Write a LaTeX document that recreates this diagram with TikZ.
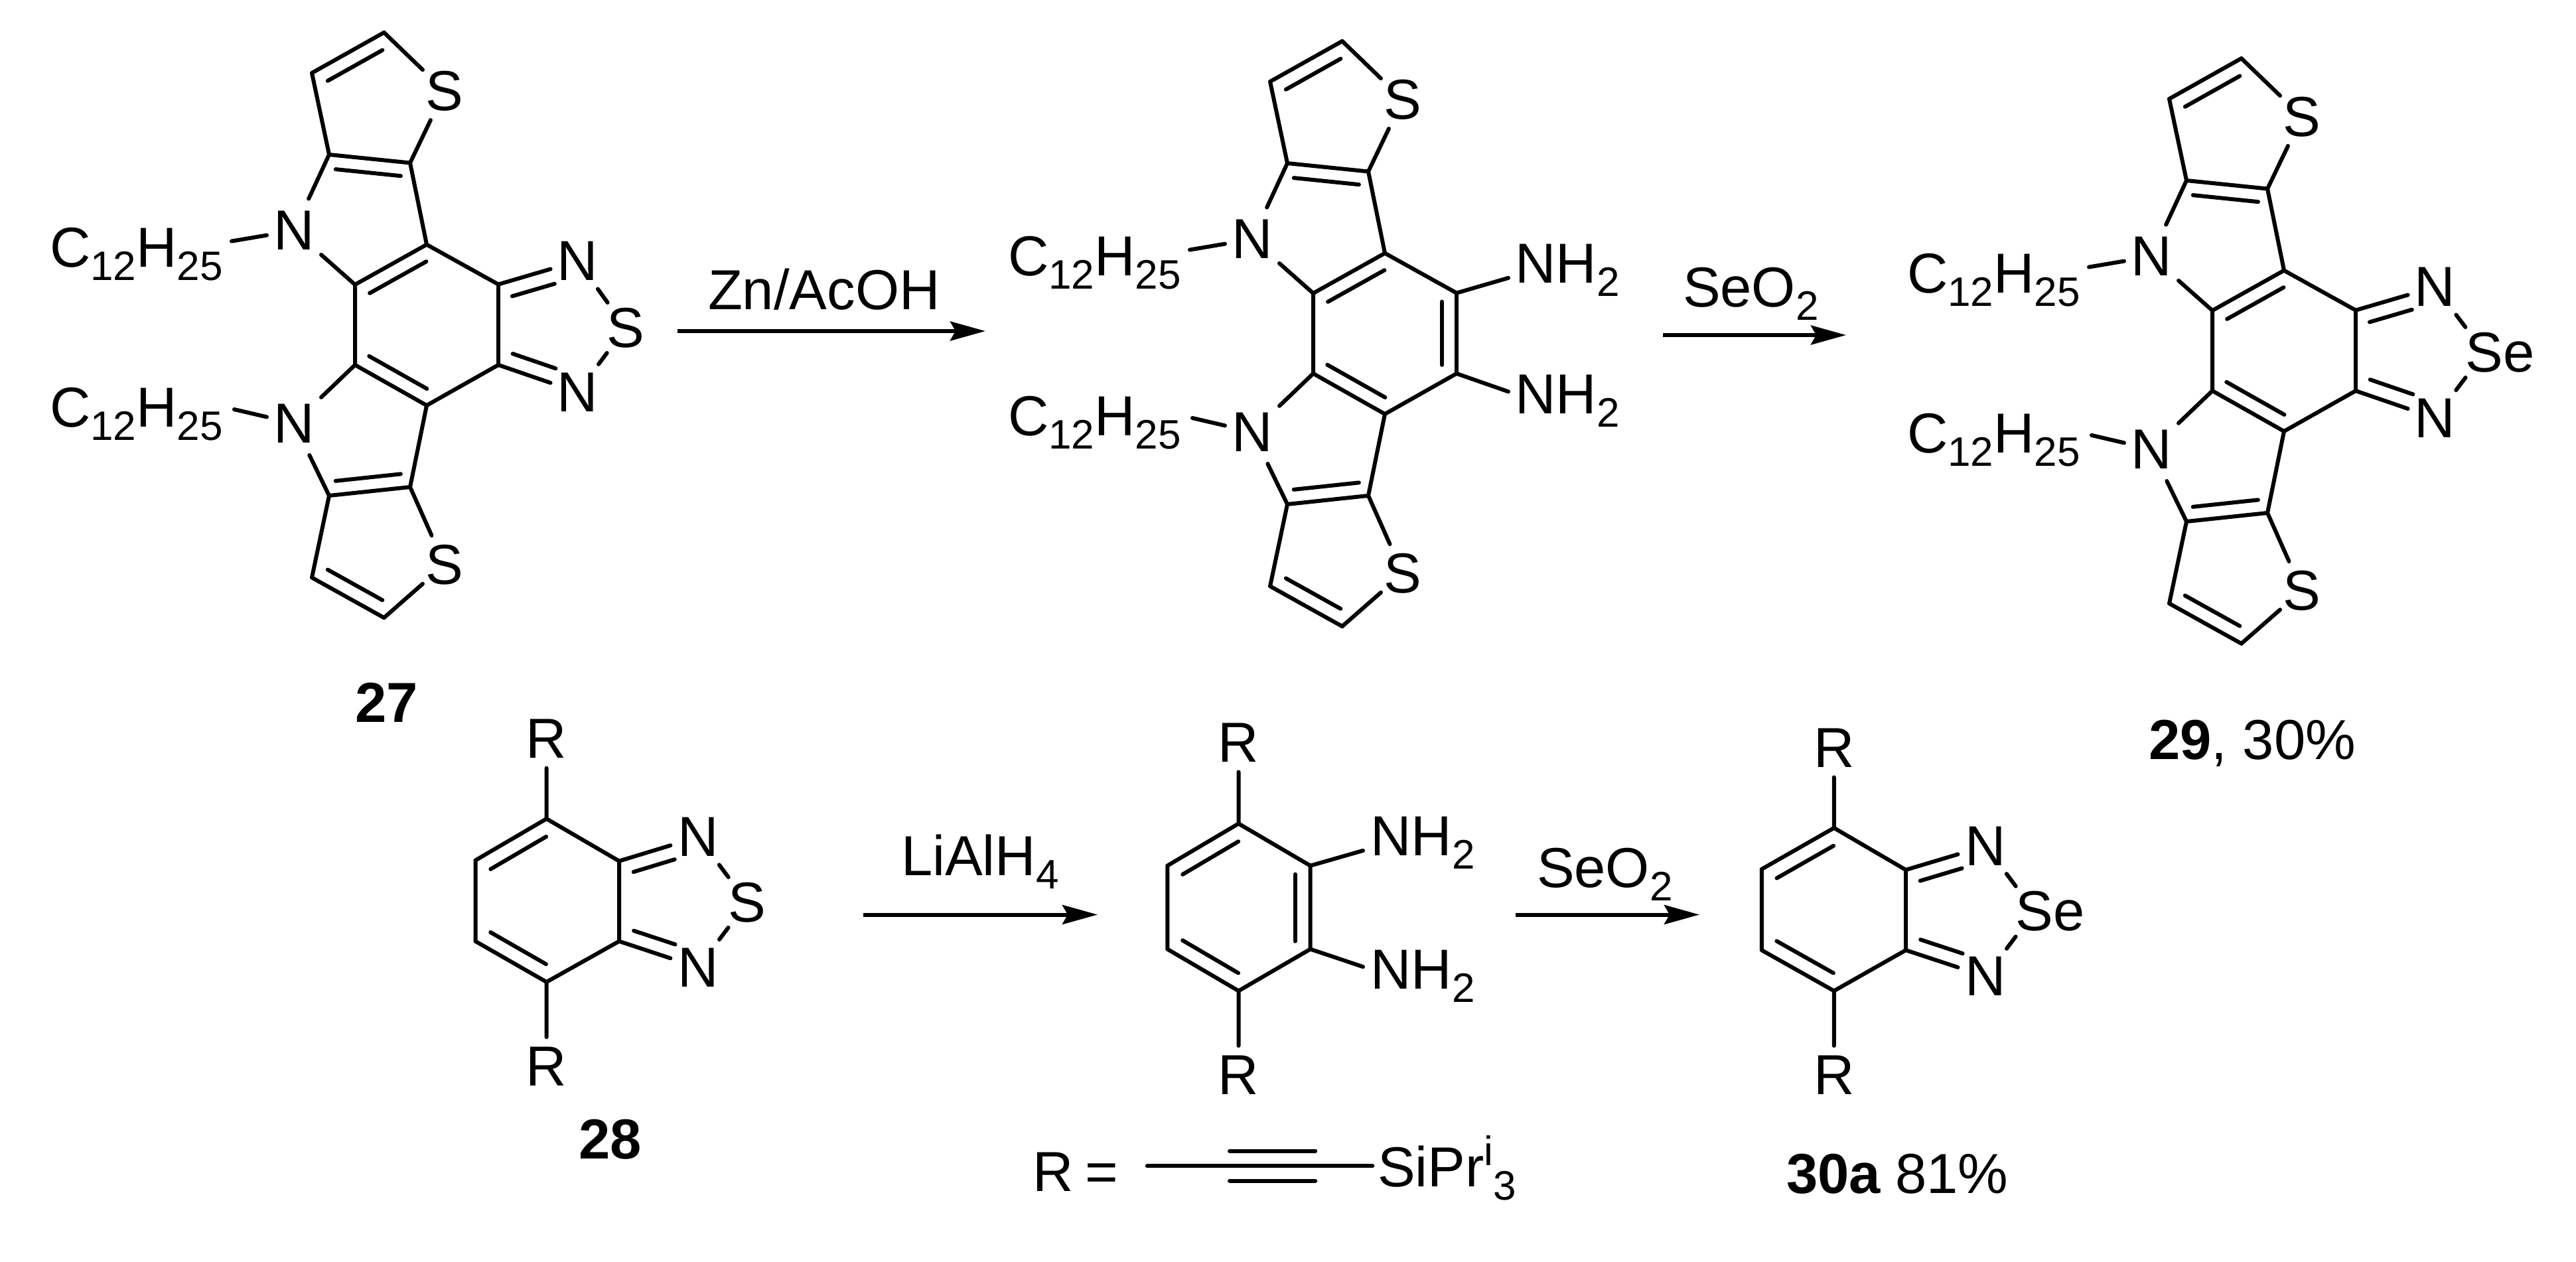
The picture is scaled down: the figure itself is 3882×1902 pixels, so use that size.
\documentclass[tikz,border=0pt]{standalone}
\usepackage{fontspec}
\setmainfont{Liberation Sans}
\usetikzlibrary{calc,arrows.meta}
\newcommand\molsub[1]{\raisebox{-20pt}{\fontsize{62}{62}\selectfont #1}}
\newcommand\molsup[1]{\raisebox{32pt}{\fontsize{62}{62}\selectfont #1}}
\newcommand\inbond[5]{\draw ($(#1)!#4pt!(#2)!#3pt!90:(#2)$) -- ($(#2)!#5pt!(#1)!#3pt!-90:(#1)$);}
\tikzset{
  atom/.style 2 args={inner sep=0pt,outer sep=0pt,minimum width=#1pt,minimum height=#2pt,rectangle,font=\fontsize{85}{85}\selectfont},
  lbl/.style={inner sep=0pt,outer sep=0pt,anchor=base west,font=\fontsize{85}{85}\selectfont},
  rxn/.style={-{Stealth[length=53pt,width=29pt,inset=8pt]},line width=6pt,line cap=butt},
  bond/.style={line width=6pt,line cap=round,line join=round}
}
% tricyclic core shared by 27, the diamine and 29
\newcommand\molcore{%
  \coordinate (A) at (578.7,49);
  \coordinate (B) at (470,110);
  \coordinate (C) at (496,233);
  \coordinate (D) at (618,245.5);
  \coordinate (E) at (643,368.6);
  \coordinate (F) at (535,429);
  \coordinate (G) at (751,428.6);
  \coordinate (H) at (535,550);
  \coordinate (I) at (751,550);
  \coordinate (J) at (643,611);
  \coordinate (K) at (618,734);
  \coordinate (L) at (496,747);
  \coordinate (M) at (470,870.5);
  \coordinate (O) at (578.7,931);
  \coordinate (R1) at (349,363.5);
  \coordinate (R2) at (353,617);
  \node[atom={66}{88}] (S1) at (670,137) {S};
  \node[atom={66}{88}] (S2) at (670,851) {S};
  \node[atom={82}{96}] (N1) at (443,347.6) {N};
  \node[atom={82}{96}] (N2) at (443,638) {N};
  \node[lbl] (C1) at (75,402) {C\molsub{12}H\molsub{25}};
  \node[lbl] (C2) at (75,643) {C\molsub{12}H\molsub{25}};
  \draw (A)--(B) (B)--(C) (C)--(D) (D)--(E) (E)--(F) (F)--(H) (H)--(J) (J)--(K) (K)--(L) (L)--(M) (M)--(O)
        (E)--(G) (J)--(I);
  \draw (A)--(S1) (D)--(S1) (O)--(S2) (K)--(S2) (C)--(N1) (F)--(N1) (H)--(N2) (L)--(N2) (R1)--(N1) (R2)--(N2);
  \inbond{A}{B}{22}{15}{15}
  \inbond{C}{D}{-21}{12}{12}
  \inbond{E}{F}{22}{13}{13}
  \inbond{H}{J}{22}{12}{12}
  \inbond{L}{K}{21}{12}{12}
  \inbond{M}{O}{22}{15}{15}
}
\begin{document}
\begin{tikzpicture}[x=1pt,y=-1pt,bond]
\useasboundingbox (0,0) rectangle (3882,1902);
\fill[white] (0,0) rectangle (3882,1902);

% ---- 27
\begin{scope}[name prefix=a-]
  \molcore
  \draw (G)--(I);
  \node[atom={82}{84}] (N3) at (870.6,393.5) {N};
  \node[atom={82}{84}] (N4) at (870.6,591) {N};
  \node[atom={66}{76}] (S3) at (943,494) {S};
  \draw (G)--(N3) (I)--(N4) (N3)--(S3) (N4)--(S3);
  \inbond{G}{N3}{-23}{15}{43}
  \inbond{I}{N4}{23}{15}{43}
\end{scope}
\node[lbl,font=\fontsize{85}{85}\selectfont\bfseries] (n27) at (535,1088) {27};

% ---- diamine
\begin{scope}[shift={(1444,13)},name prefix=b-]
  \molcore
  \draw (G)--(I);
  \inbond{G}{I}{-22}{13}{13}
  \node[atom={82}{84}] (N3) at (870,394) {N\rlap{H\molsub{2}}};
  \node[atom={82}{84}] (N4) at (870,591.5) {N\rlap{H\molsub{2}}};
  \draw (G)--(N3) (I)--(N4);
\end{scope}

% ---- 29
\begin{scope}[shift={(2799,39)},name prefix=c-]
  \molcore
  \draw (G)--(I);
  \node[atom={82}{84}] (N3) at (870.6,393.5) {N};
  \node[atom={82}{84}] (N4) at (870.6,591) {N};
  \node[atom={66}{76}] (S3) at (945,492) {S\rlap{e}};
  \draw (G)--(N3) (I)--(N4) (N3)--(S3) (N4)--(S3);
  \inbond{G}{N3}{-23}{15}{43}
  \inbond{I}{N4}{23}{15}{43}
\end{scope}
\node[lbl] (n29) at (3238,1144) {\textbf{29}, 30\%};

% ---- arrows, top row
\coordinate (ar1s) at (1021,499);
\coordinate (ar1e) at (1485,499);
\draw[rxn] (ar1s) -- (ar1e);
\node[lbl] (zn) at (1067,466) {Zn/AcOH};
\coordinate (ar2s) at (2506,505);
\coordinate (ar2e) at (2782,505);
\draw[rxn] (ar2s) -- (ar2e);
\node[lbl] (se1) at (2536,462) {SeO\molsub{2}};

% ---- 28
\begin{scope}[name prefix=d-]
  \coordinate (a) at (823.6,1234);
  \coordinate (b) at (716.5,1296.6);
  \coordinate (c) at (716.5,1418.6);
  \coordinate (d) at (823.6,1480);
  \coordinate (e) at (933,1418.6);
  \coordinate (f) at (933,1297.7);
  \node[atom={60}{88}] (R1) at (823.6,1113.7) {R};
  \node[atom={60}{88}] (R2) at (823.6,1607) {R};
  \node[atom={84}{84}] (N1) at (1052.4,1261.4) {N};
  \node[atom={84}{84}] (N2) at (1052.4,1458) {N};
  \node[atom={66}{76}] (S) at (1126,1360) {S};
  \draw (a)--(b) (b)--(c) (c)--(d) (d)--(e) (e)--(f) (f)--(a) (a)--(R1) (d)--(R2);
  \draw (f)--(N1) (e)--(N2) (N1)--(S) (N2)--(S);
  \inbond{a}{b}{23}{14}{13}
  \inbond{c}{d}{23}{13}{14}
  \inbond{f}{N1}{-22}{16}{44}
  \inbond{e}{N2}{22}{16}{44}
\end{scope}
\node[lbl,font=\fontsize{85}{85}\selectfont\bfseries] (n28) at (872,1746) {28};

\coordinate (ar3s) at (1301,1378.5);
\coordinate (ar3e) at (1654,1378.5);
\draw[rxn] (ar3s) -- (ar3e);
\node[lbl] (lah) at (1358,1319) {LiAlH\molsub{4}};

% ---- diamine, bottom
\begin{scope}[name prefix=e-]
  \coordinate (a) at (1866.5,1241.3);
  \coordinate (b) at (1759.3,1304.7);
  \coordinate (c) at (1759.3,1430.5);
  \coordinate (d) at (1866.5,1493.4);
  \coordinate (e) at (1974.6,1430.5);
  \coordinate (f) at (1974.6,1304.7);
  \node[atom={60}{88}] (R1) at (1866.5,1119.5) {R};
  \node[atom={60}{88}] (R2) at (1866.5,1620) {R};
  \node[atom={84}{84}] (N1) at (2096,1270) {N\rlap{H\molsub{2}}};
  \node[atom={84}{84}] (N2) at (2096,1471) {N\rlap{H\molsub{2}}};
  \draw (a)--(b) (b)--(c) (c)--(d) (d)--(e) (e)--(f) (f)--(a) (a)--(R1) (d)--(R2);
  \draw (f)--(N1) (e)--(N2);
  \inbond{a}{b}{23}{14}{13}
  \inbond{c}{d}{23}{13}{14}
  \inbond{f}{e}{-23}{13}{12}
\end{scope}

\coordinate (ar4s) at (2283.6,1378.5);
\coordinate (ar4e) at (2561,1378.5);
\draw[rxn] (ar4s) -- (ar4e);
\node[lbl] (se2) at (2316,1337) {SeO\molsub{2}};

% ---- 30a
\begin{scope}[name prefix=f-]
  \coordinate (a) at (2763.8,1247.8);
  \coordinate (b) at (2654.8,1310);
  \coordinate (c) at (2654.8,1432);
  \coordinate (d) at (2763.8,1493.4);
  \coordinate (e) at (2872,1432);
  \coordinate (f) at (2872,1311);
  \node[atom={60}{88}] (R1) at (2763.8,1127.5) {R};
  \node[atom={60}{88}] (R2) at (2763.8,1620) {R};
  \node[atom={84}{84}] (N1) at (2992.5,1275) {N};
  \node[atom={84}{84}] (N2) at (2992.5,1471.7) {N};
  \node[atom={66}{76}] (S) at (3066,1373.6) {S\rlap{e}};
  \draw (a)--(b) (b)--(c) (c)--(d) (d)--(e) (e)--(f) (f)--(a) (a)--(R1) (d)--(R2);
  \draw (f)--(N1) (e)--(N2) (N1)--(S) (N2)--(S);
  \inbond{a}{b}{23}{14}{13}
  \inbond{c}{d}{23}{13}{14}
  \inbond{f}{N1}{-22}{16}{44}
  \inbond{e}{N2}{22}{16}{44}
\end{scope}
\node[lbl] (n30) at (2692,1798) {\textbf{30a}\hspace{22pt}81\%};

% ---- R definition
\node[lbl] (req) at (1556,1795) {R\hspace{18pt}=};
\coordinate (t1) at (1728.7,1757.3);
\coordinate (t2) at (2068.3,1757.3);
\coordinate (t3) at (1853,1734.6);
\coordinate (t4) at (1982.2,1734.6);
\coordinate (t5) at (1853,1779.5);
\coordinate (t6) at (1982.2,1779.5);
\draw (t1)--(t2) (t3)--(t4) (t5)--(t6);
\node[lbl] (sip) at (2076,1788) {SiPr\molsup{i}\molsub{3}};
\end{tikzpicture}
\end{document}
